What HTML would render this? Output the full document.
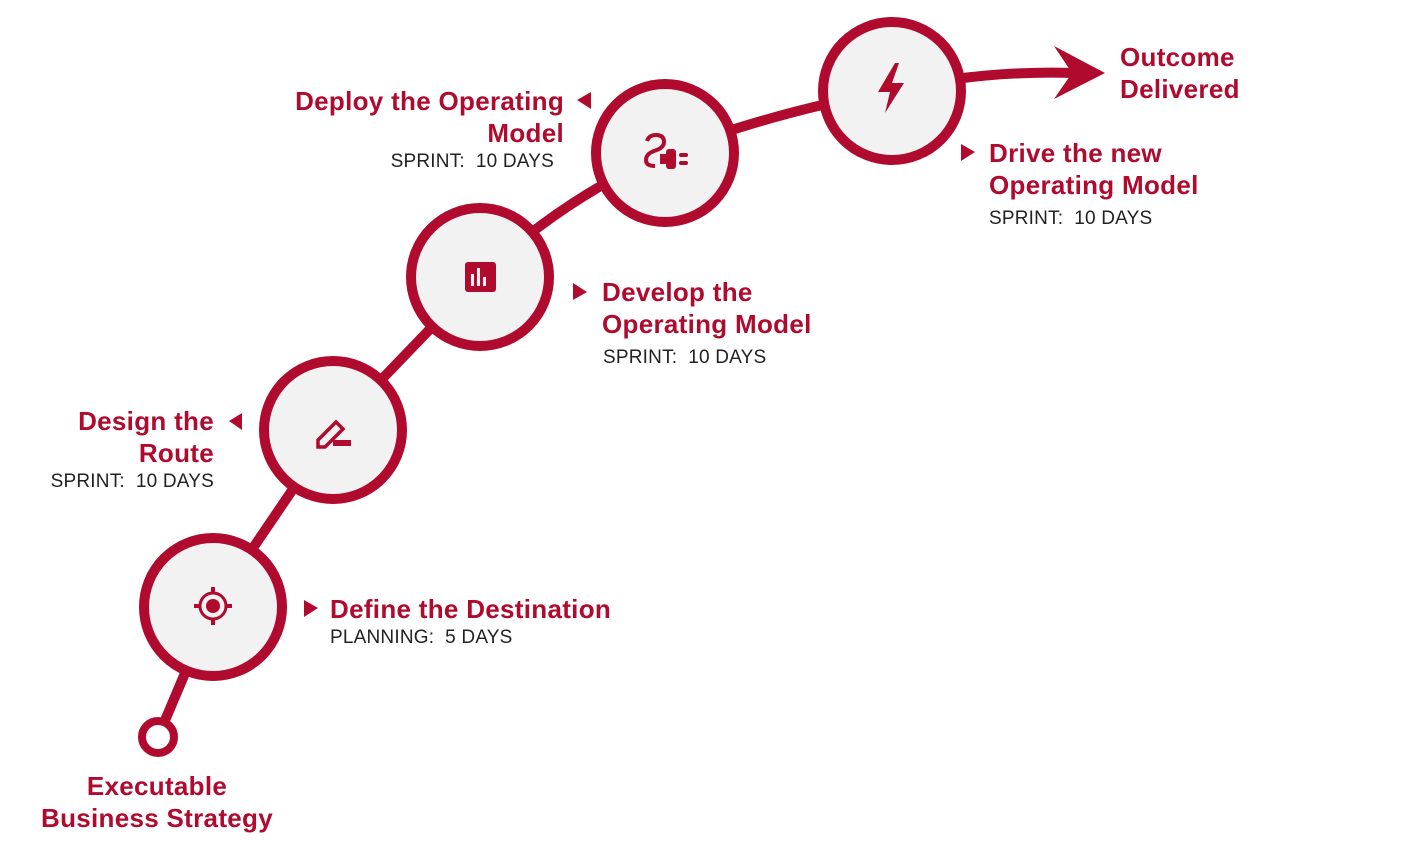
<!DOCTYPE html>
<html><head><style>
body{margin:0;width:1425px;height:850px;background:#fff;overflow:hidden;position:relative;font-family:"Liberation Sans",sans-serif}
.t{position:absolute;color:#b00b2e;font-weight:bold;font-size:26px;line-height:32px;white-space:nowrap;letter-spacing:0.3px}
.s{position:absolute;color:#222;font-size:19px;line-height:22px;white-space:nowrap;letter-spacing:0.2px}
.r{text-align:right}
</style></head><body>
<svg width="1425" height="850" style="position:absolute;left:0;top:0">
<g stroke="#b00b2e" stroke-width="10" fill="none" stroke-linecap="round">
<path d="M158 737 L213 607 L333 430 L480 277 Q560 200 665 153 Q780 110 891 91 Q980 70 1075 73"/>
</g>
<polygon points="1105,73 1054,46 1072,73 1054,99" fill="#b00b2e"/>
<circle cx="158" cy="737" r="16" fill="#fff" stroke="#b00b2e" stroke-width="8"/>
<g fill="#f2f2f2" stroke="#b00b2e" stroke-width="10">
<circle cx="213" cy="607" r="69"/>
<circle cx="333" cy="430" r="69"/>
<circle cx="480" cy="277" r="69"/>
<circle cx="665" cy="153" r="69"/>
<circle cx="892" cy="91" r="69"/>
</g>
<g fill="#b00b2e">
<circle cx="213" cy="606" r="7"/>
<circle cx="213" cy="606" r="13" fill="none" stroke="#b00b2e" stroke-width="3"/>
<rect x="211" y="587" width="4" height="6"/><rect x="211" y="619" width="4" height="6"/>
<rect x="194" y="604" width="6" height="4"/><rect x="226" y="604" width="6" height="4"/>
<path d="M318 440 L336 422 L343 429 L325 447 L318 447 Z" fill="none" stroke="#b00b2e" stroke-width="3.5"/>
<rect x="333" y="440" width="18" height="6"/>
<rect x="465" y="262" width="31" height="30" rx="3"/>
<rect x="471" y="274" width="3" height="12" fill="#f2f2f2"/><rect x="477" y="268" width="3" height="18" fill="#f2f2f2"/><rect x="483" y="277" width="3" height="9" fill="#f2f2f2"/>
<path d="M647 141 Q649 135 656 135 Q664 135 664 142 Q664 148 654 151 Q646 154 646 160 Q646 166 655 166" fill="none" stroke="#b00b2e" stroke-width="4"/>
<rect x="660" y="154" width="8" height="10"/><rect x="666" y="149" width="10" height="20" rx="3"/>
<rect x="679" y="153" width="9" height="4" rx="2"/><rect x="679" y="161" width="9" height="4" rx="2"/>
<polygon points="895,63 878,92 890,92 885,113 904,83 892,83 899,63"/>
<polygon points="304,600 318,608 304,617"/>
<polygon points="242,413 229,421 242,430"/>
<polygon points="573,283 587,292 573,300"/>
<polygon points="591,92 577,100 591,109"/>
<polygon points="961,144 975,152 961,161"/>
</g>
</svg>
<div class="t" style="left:330px;top:593px">Define the Destination</div>
<div class="s" style="left:330px;top:627px">PLANNING:&nbsp; 5 DAYS</div>
<div class="t r" style="right:1211px;top:405px">Design the<br>Route</div>
<div class="s r" style="right:1211px;top:471px">SPRINT:&nbsp; 10 DAYS</div>
<div class="t" style="left:602px;top:276px">Develop the<br>Operating Model</div>
<div class="s" style="left:603px;top:347px">SPRINT:&nbsp; 10 DAYS</div>
<div class="t r" style="right:861px;top:85px">Deploy the Operating<br>Model</div>
<div class="s r" style="right:871px;top:151px">SPRINT:&nbsp; 10 DAYS</div>
<div class="t" style="left:989px;top:137px">Drive the new<br>Operating Model</div>
<div class="s" style="left:989px;top:208px">SPRINT:&nbsp; 10 DAYS</div>
<div class="t" style="left:1120px;top:41px">Outcome<br>Delivered</div>
<div class="t" style="left:37px;top:770px;text-align:center;width:240px">Executable<br>Business Strategy</div>
</body></html>
